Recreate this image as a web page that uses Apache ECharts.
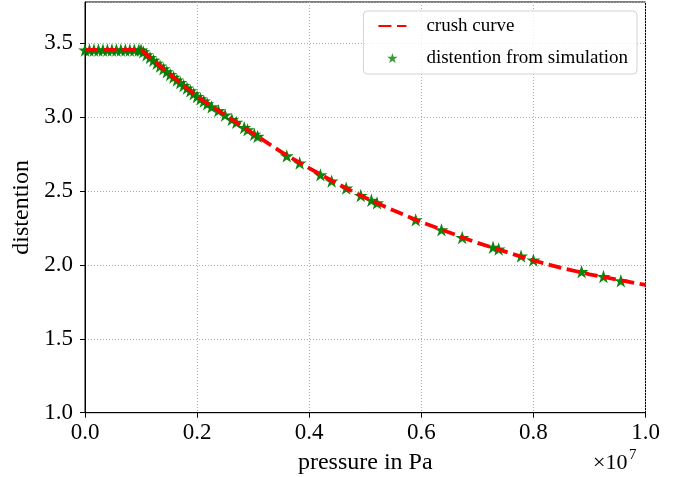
<!DOCTYPE html>
<html>
<head>
<meta charset="utf-8">
<script src="https://cdn.jsdelivr.net/npm/echarts@6/dist/echarts.min.js"></script>
<style>
  html, body { margin: 0; padding: 0; background: #fff; }
  #chart { width: 686px; height: 477px; }
</style>
</head>
<body>
<div id="chart"></div>
<script>
// pressure values in units of 1e7 Pa (axis shows x10^7 offset)
const xTickValues = [0.0, 0.2, 0.4, 0.6, 0.8, 1.0];
const yTickValues = [1.0, 1.5, 2.0, 2.5, 3.0, 3.5];

// crush curve (red dashed)
const crushX = [0, 0.1, 0.15, 0.2, 0.25, 0.3, 0.35, 0.4, 0.45, 0.5, 0.55, 0.6, 0.65, 0.7, 0.75, 0.8, 0.85, 0.9, 0.95, 1.0];
const crushY = [3.455, 3.455, 3.295, 3.14, 3.015, 2.89, 2.765, 2.655, 2.55, 2.455, 2.37, 2.29, 2.22, 2.15, 2.09, 2.03, 1.98, 1.937, 1.9, 1.865];

// distention from simulation (green stars)
const simX = [
  0, 0.008, 0.016, 0.024, 0.032, 0.04, 0.048, 0.056, 0.064, 0.072, 0.08, 0.088, 0.096, 0.1,
  0.104, 0.11, 0.116, 0.122, 0.128, 0.134, 0.14, 0.146, 0.152, 0.158, 0.164, 0.17, 0.176,
  0.182, 0.188, 0.194, 0.2, 0.206, 0.212,
  0.218, 0.226, 0.238, 0.25, 0.262, 0.27, 0.284, 0.29, 0.302, 0.308,
  0.36, 0.383, 0.42, 0.44, 0.466, 0.492, 0.511, 0.521, 0.59, 0.636, 0.673,
  0.728, 0.738, 0.778, 0.8, 0.886, 0.925, 0.956
];
const simY = [
  3.455, 3.455, 3.455, 3.455, 3.455, 3.455, 3.455, 3.455, 3.455, 3.455, 3.455, 3.455, 3.455, 3.455,
  3.442, 3.423, 3.404, 3.385, 3.365, 3.346, 3.327, 3.308, 3.289, 3.271, 3.252, 3.234, 3.215,
  3.197, 3.178, 3.159, 3.14, 3.124, 3.109,
  3.09, 3.07, 3.045, 3.015, 2.985, 2.965, 2.93, 2.915, 2.885, 2.87,
  2.738, 2.69, 2.61, 2.568, 2.52, 2.47, 2.438, 2.42, 2.305, 2.238, 2.186,
  2.12, 2.108, 2.06, 2.033, 1.955, 1.922, 1.893
];

const FONT = 'Liberation Serif';
const STAR = 'path://M0,-100 L22.45,-30.9 L95.11,-30.9 L36.33,11.8 L58.78,80.9 L0,38.2 L-58.78,80.9 L-36.33,11.8 L-95.11,-30.9 L-22.45,-30.9 Z';

const crushData = crushX.map((x, i) => [x, crushY[i]]);
const simData = simX.map((x, i) => [x, simY[i]]);

const chart = echarts.init(document.getElementById('chart'), null, { renderer: 'canvas' });

const gridLine = { show: true, lineStyle: { color: '#aaaaaa', width: 1, type: [1, 2] } };

chart.setOption({
  animation: false,
  backgroundColor: '#fff',
  grid: {
    left: 85, right: 40.5, top: 2, bottom: 64.3,
    outerBoundsMode: 'none', containLabel: false,
    show: true, borderColor: '#000', borderWidth: 1, backgroundColor: 'transparent'
  },
  xAxis: {
    type: 'value',
    min: xTickValues[0], max: xTickValues[xTickValues.length - 1], interval: 0.2,
    name: 'pressure in Pa', nameLocation: 'middle', nameGap: 38,
    nameTextStyle: { fontFamily: FONT, fontSize: 24, color: '#000' },
    axisLine: { show: true, lineStyle: { color: '#000', width: 1 } },
    axisTick: { show: true, inside: false, length: 5, lineStyle: { color: '#000', width: 1 } },
    axisLabel: { fontFamily: FONT, fontSize: 23, color: '#000', margin: 9, formatter: v => v.toFixed(1) },
    splitLine: gridLine
  },
  yAxis: {
    type: 'value',
    min: yTickValues[0], max: 3.78, interval: 0.5,
    name: 'distention', nameLocation: 'middle', nameGap: 46, nameRotate: 90,
    nameTextStyle: { fontFamily: FONT, fontSize: 24, color: '#000' },
    axisLine: { show: true, lineStyle: { color: '#000', width: 1 } },
    axisTick: { show: true, inside: false, length: 5, lineStyle: { color: '#000', width: 1 } },
    axisLabel: { fontFamily: FONT, fontSize: 23, color: '#000', margin: 12, showMaxLabel: false, formatter: v => v.toFixed(1) },
    splitLine: gridLine
  },
  legend: {
    orient: 'vertical', right: 49, top: 11,
    itemWidth: 28, itemHeight: 10, itemGap: 12,
    padding: [5, 9, 6, 14],
    borderColor: '#d3d3d3', borderWidth: 1, borderRadius: 4,
    backgroundColor: 'rgba(255,255,255,0.8)',
    textStyle: { fontFamily: FONT, fontSize: 19, color: '#000', lineHeight: 20, padding: [0, 0, 0, 15] },
    data: [
      { name: 'crush curve', itemStyle: { opacity: 0 } },
      { name: 'distention from simulation', itemStyle: { color: '#3a9a3a', opacity: 1 } }
    ]
  },
  graphic: [
    { type: 'text', left: 593, top: 452, style: { text: '×10', fontFamily: FONT, fontSize: 22, fill: '#000' } },
    { type: 'text', left: 629, top: 448, style: { text: '7', fontFamily: FONT, fontSize: 15, fill: '#000' } }
  ],
  series: [
    {
      name: 'distention from simulation',
      type: 'scatter',
      data: simData,
      symbol: STAR,
      symbolSize: 14,
      symbolKeepAspect: true,
      itemStyle: { color: '#008000', opacity: 0.95 },
      z: 2
    },
    {
      name: 'crush curve',
      type: 'line',
      data: crushData,
      symbol: 'none',
      lineStyle: { color: '#ff0000', width: 3.8, type: [13, 5.6] },
      itemStyle: { color: '#ff0000' },
      z: 3
    }
  ]
});
</script>
</body>
</html>
